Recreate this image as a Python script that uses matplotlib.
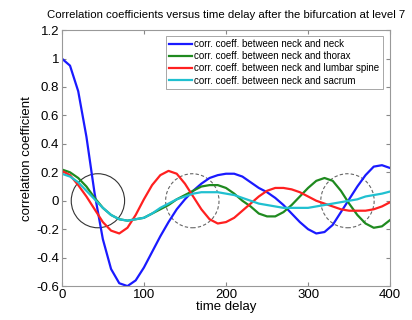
import matplotlib
matplotlib.use("Agg")
import matplotlib.pyplot as plt
from matplotlib.patches import Ellipse

plt.rcParams['font.family'] = ['Liberation Sans', 'DejaVu Sans']

# time delay samples (every 10 units)
delay = list(range(0, 401, 10))

neck_neck = [1.00, 0.95, 0.77, 0.45, 0.05, -0.27, -0.48, -0.58, -0.60, -0.56,
             -0.47, -0.36, -0.25, -0.15, -0.06, 0.01, 0.07, 0.12, 0.16, 0.18,
             0.19, 0.19, 0.17, 0.13, 0.09, 0.06, 0.02, -0.03, -0.09, -0.15,
             -0.20, -0.23, -0.22, -0.17, -0.08, 0.01, 0.10, 0.18, 0.24, 0.25,
             0.23]
neck_thorax = [0.22, 0.20, 0.16, 0.10, 0.02, -0.05, -0.10, -0.13, -0.14, -0.13,
               -0.12, -0.09, -0.06, -0.03, 0.01, 0.04, 0.07, 0.10, 0.11, 0.11,
               0.09, 0.05, 0.00, -0.04, -0.09, -0.11, -0.11, -0.08, -0.03, 0.03,
               0.09, 0.14, 0.16, 0.14, 0.07, -0.02, -0.10, -0.16, -0.19, -0.18,
               -0.135]
neck_lumbar = [0.21, 0.18, 0.11, 0.03, -0.06, -0.15, -0.21, -0.23, -0.19, -0.10,
               0.01, 0.11, 0.18, 0.21, 0.19, 0.12, 0.03, -0.06, -0.13, -0.16,
               -0.15, -0.12, -0.07, -0.02, 0.03, 0.07, 0.09, 0.09, 0.08, 0.06,
               0.03, 0.00, -0.02, -0.04, -0.06, -0.07, -0.07, -0.07, -0.06, -0.04,
               -0.01]
neck_sacrum = [0.19, 0.17, 0.13, 0.07, 0.01, -0.05, -0.10, -0.13, -0.14, -0.13,
               -0.12, -0.09, -0.05, -0.02, 0.01, 0.03, 0.05, 0.06, 0.06, 0.06,
               0.05, 0.04, 0.02, 0.00, -0.02, -0.03, -0.04, -0.05, -0.05, -0.05,
               -0.05, -0.04, -0.03, -0.02, -0.01, 0.00, 0.01, 0.03, 0.04, 0.05,
               0.065]

labels = ["corr. coeff. between neck and neck",
          "corr. coeff. between neck and thorax",
          "corr. coeff. between neck and lumbar spine",
          "corr. coeff. between neck and sacrum"]
colors = ["#1a1aff", "#1f8a1f", "#ff2020", "#20c0d0"]

# highlighted regions: (centre delay, centre value, solid?)
marks = [(44, 0.0, True), (159, 0.0, False), (348, 0.0, False)]

fig = plt.figure(figsize=(4.12, 3.2), dpi=100)
ax = fig.add_axes([0.150, 0.106, 0.797, 0.800])

for series, lab, col in zip([neck_neck, neck_thorax, neck_lumbar, neck_sacrum], labels, colors):
    ax.plot(delay, series, color=col, linewidth=1.6, label=lab)

for cx, cy, solid in marks:
    ax.add_patch(Ellipse((cx, cy), 65, 0.38, fill=False,
                         edgecolor="#333333" if solid else "#666666",
                         linewidth=0.8, linestyle="-" if solid else (0, (3, 2))))

ax.set_xlim(0, 400)
ax.set_ylim(-0.6, 1.2)
ax.set_xticks([0, 100, 200, 300, 400])
ax.set_yticks([-0.6, -0.4, -0.2, 0, 0.2, 0.4, 0.6, 0.8, 1, 1.2])
ax.set_yticklabels(["-0.6", "-0.4", "-0.2", "0", "0.2", "0.4", "0.6", "0.8", "1", "1.2"])
ax.tick_params(direction="in", length=3, labelsize=9.5, pad=2,
               top=True, right=True, color="#888888")
for s in ax.spines.values():
    s.set_color("#999999")
    s.set_linewidth(0.8)

ax.set_xlabel("time delay", fontsize=9.5, labelpad=0)
ax.set_ylabel("correlation coefficient", fontsize=9.5, labelpad=2)
ax.set_title("Correlation coefficients versus time delay after the bifurcation at level 7",
             fontsize=8.2, pad=9)

leg = ax.legend(loc="upper right", fontsize=7.0, handlelength=2.3, handletextpad=0.3,
                labelspacing=0.22, borderpad=0.35, fancybox=False, framealpha=1,
                bbox_to_anchor=(0.993, 0.997))
leg.get_frame().set_edgecolor("#999999")
leg.get_frame().set_linewidth(0.6)

plt.savefig("out.png", dpi=100)
plt.close()
